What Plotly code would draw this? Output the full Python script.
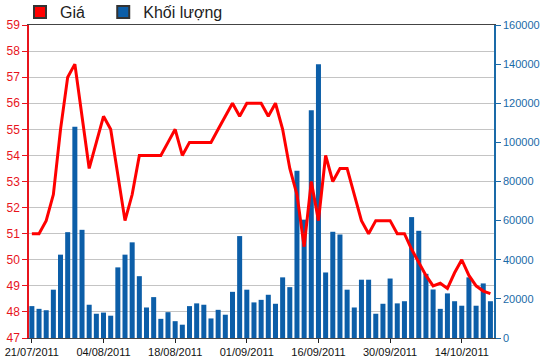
import plotly.graph_objects as go

dates = ["21/07/2011","22/07/2011","25/07/2011","26/07/2011","27/07/2011","28/07/2011","29/07/2011",
         "01/08/2011","02/08/2011","03/08/2011","04/08/2011","05/08/2011","08/08/2011","09/08/2011",
         "10/08/2011","11/08/2011","12/08/2011","15/08/2011","16/08/2011","17/08/2011","18/08/2011",
         "19/08/2011","22/08/2011","23/08/2011","24/08/2011","25/08/2011","26/08/2011","29/08/2011",
         "30/08/2011","31/08/2011","01/09/2011","05/09/2011","06/09/2011","07/09/2011","08/09/2011",
         "09/09/2011","12/09/2011","13/09/2011","14/09/2011","15/09/2011","16/09/2011","19/09/2011",
         "20/09/2011","21/09/2011","22/09/2011","23/09/2011","26/09/2011","27/09/2011","28/09/2011",
         "29/09/2011","30/09/2011","03/10/2011","04/10/2011","05/10/2011","06/10/2011","07/10/2011",
         "10/10/2011","11/10/2011","12/10/2011","13/10/2011","14/10/2011","17/10/2011","18/10/2011",
         "19/10/2011","20/10/2011"]

price = [51, 51, 51.5, 52.5, 55, 57, 57.5, 55.5, 53.5, 54.5, 55.5, 55, 53.3, 51.5, 52.5, 54, 54,
         54, 54, 54.5, 55, 54, 54.5, 54.5, 54.5, 54.5, 55, 55.5, 56, 55.5, 56, 56, 56, 55.5, 56,
         55, 53.5, 52.5, 50.5, 53, 51.5, 54, 53, 53.5, 53.5, 52.5, 51.5, 51, 51.5, 51.5, 51.5,
         51, 51, 50.4, 49.9, 49.4, 49, 49.1, 48.9, 49.5, 50, 49.4, 49, 48.8, 48.7]

volume = [16300, 14900, 14200, 24700, 42600, 54100, 108000, 55300, 17000, 12400, 13000, 11400,
          36100, 42600, 48900, 31600, 15600, 20900, 9800, 13200, 8600, 6800, 16300, 17700, 17000,
          10000, 14400, 11900, 23600, 52100, 24700, 18200, 19500, 22100, 17500, 31000, 26000,
          85500, 60500, 116400, 140000, 33500, 54300, 52900, 24700, 15600, 29800, 29800, 12400,
          17500, 30400, 17700, 18800, 61800, 54800, 32800, 24800, 14900, 22800, 18800, 16500,
          31000, 16500, 27900, 18800]

tick_dates = dates[::10]
price_range = [47, 59]
volume_range = [0, 160000]
legend_names = ["Giá", "Khối lượng"]

RED = "#ff0000"
BLUE = "#0c5ea8"
RED_TXT = "#e8141c"
BLUE_TXT = "#1a6aa8"
FONT = "Liberation Sans, Arial, sans-serif"

fig = go.Figure()
fig.add_trace(go.Bar(x=dates, y=volume, yaxis="y2", marker=dict(color=BLUE, line=dict(width=0)),
                     showlegend=False, name=legend_names[1]))
fig.add_trace(go.Scatter(x=dates, y=price, yaxis="y3", mode="lines",
                         line=dict(color=RED, width=3), showlegend=False, name=legend_names[0]))
# legend entries
fig.add_trace(go.Scatter(x=[None], y=[None], mode="markers", name=legend_names[0] + "\u00a0\u00a0\u00a0",
                         marker=dict(symbol="square", size=12, color=RED, line=dict(color="#333", width=1))))
fig.add_trace(go.Scatter(x=[None], y=[None], mode="markers", name=legend_names[1],
                         marker=dict(symbol="square", size=12, color=BLUE, line=dict(color="#333", width=1))))

fig.update_layout(
    width=550, height=364,
    margin=dict(l=29, r=56, t=25, b=26, autoexpand=False),
    paper_bgcolor="white", plot_bgcolor="white",
    bargap=0.3,
    font=dict(family=FONT, size=11, color="#222"),
    legend=dict(orientation="h", x=20 / 550, xanchor="left", y=1 + 30 / 313, yanchor="top",
                xref="container", yref="paper",
                font=dict(size=16, color="#222"), bgcolor="rgba(0,0,0,0)",
                itemsizing="constant", tracegroupgap=0),
    xaxis=dict(type="category", range=[-0.4, 64.5], tickmode="array", tickvals=tick_dates,
               ticktext=tick_dates, ticks="outside", ticklen=4, tickcolor="#222",
               showline=True, linecolor="#444", linewidth=1, mirror=True, showgrid=False,
               tickfont=dict(size=11, color="#111")),
    yaxis=dict(side="left", range=price_range, dtick=1, showgrid=True,
               gridcolor="#c4c4c4", gridwidth=1, zeroline=False, showline=True,
               linecolor=RED_TXT, linewidth=1.5, ticks="outside", ticklen=5, tickcolor=RED_TXT,
               tickfont=dict(size=12, color=RED_TXT)),
    yaxis2=dict(side="right", overlaying="y", range=volume_range, dtick=20000, showgrid=False,
                zeroline=False, showline=True, linecolor=BLUE_TXT, linewidth=1.5, ticks="outside",
                ticklen=5, tickcolor=BLUE_TXT, tickfont=dict(size=11, color=BLUE_TXT), tickformat="d"),
    yaxis3=dict(overlaying="y", range=price_range, visible=False),
)

fig.write_html("out.html", config={"displayModeBar": False},
               post_script="document.body.style.margin='0';")
